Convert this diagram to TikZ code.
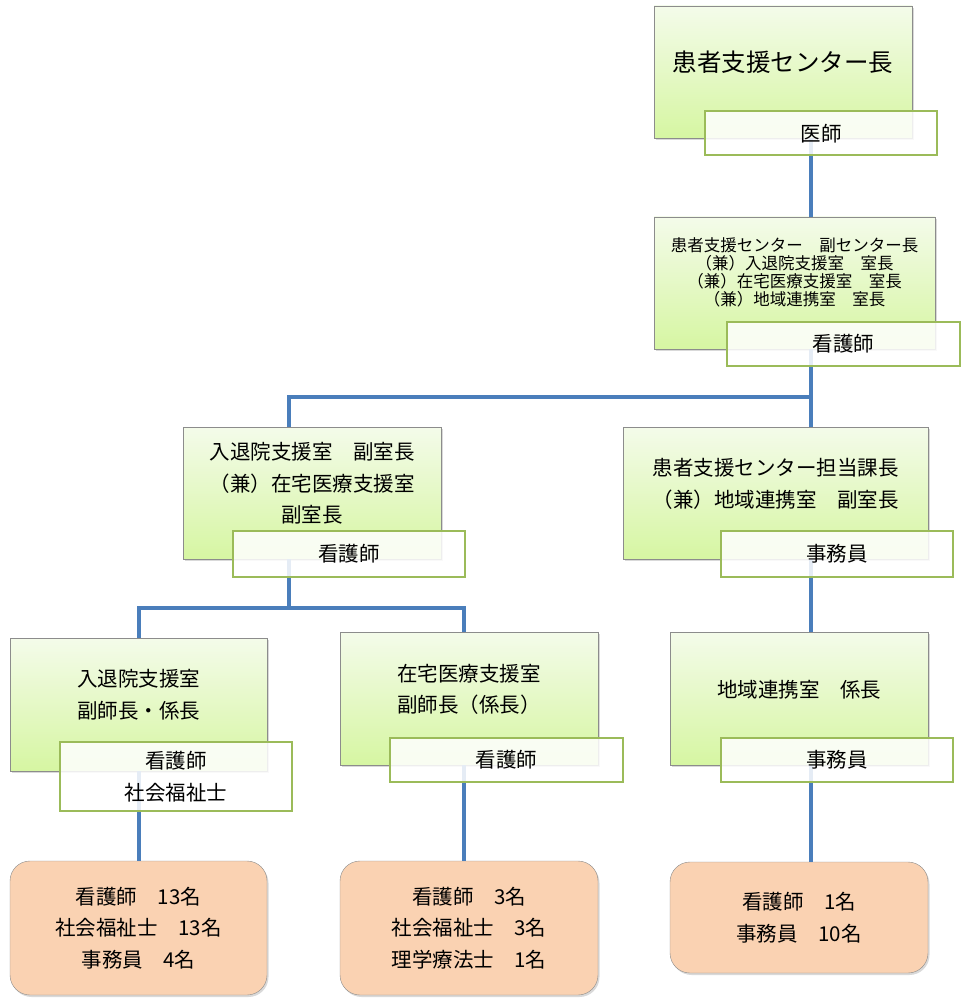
\documentclass[tikz,border=0pt]{standalone}
\usepackage{fontspec}
\setmainfont{Noto Sans CJK JP}
\usetikzlibrary{positioning, shadows, calc}

\definecolor{linkblue}{RGB}{74,126,187}
\definecolor{rolegreen}{RGB}{155,187,89}
\definecolor{boxtop}{RGB}{244,251,234}
\definecolor{boxbot}{RGB}{214,246,162}
\definecolor{staffbg}{RGB}{250,210,178}
\definecolor{edgegray}{RGB}{140,140,140}

\newcommand{\bodyfont}{\fontsize{20.5}{31.5}\selectfont}

\tikzset{
	post/.style={rectangle, draw=edgegray, top color=boxtop, bottom color=boxbot, minimum width=258pt, minimum height=132pt, drop shadow={shadow xshift=1.5pt, shadow yshift=-2pt, opacity=0.3}},
	role/.style={rectangle, draw=rolegreen, line width=2pt, fill=white, fill opacity=0.86, text opacity=1, minimum width=232pt, minimum height=44pt, anchor=north east, align=center, font=\bodyfont},
	staff/.style={rectangle, rounded corners=20pt, draw=edgegray, fill=staffbg, minimum width=257pt, minimum height=134pt, align=center, font=\bodyfont, drop shadow={shadow xshift=1.5pt, shadow yshift=-2pt, opacity=0.3}},
	title/.style={align=center, font=\bodyfont},
	link/.style={linkblue, line width=3.5pt},
}

\begin{document}
\begin{tikzpicture}[x=1pt, y=-1pt]
	\useasboundingbox (0,0) rectangle (962,1008);
	% posts
	\node[post] (chief) at (783,72) {};
	\node[post, minimum width=281pt] (vice) at (794.5,283) {};
	\node[post] (admitdep) at (312,493) {};
	\node[post, minimum width=305pt] (liaisonmgr) at (775.5,493) {};
	\node[post, minimum width=257pt, minimum height=133pt] (admitlead) at (138.5,704.5) {};
	\node[post, minimum height=133pt] (homelead) at (469,698.5) {};
	\node[post, minimum height=133pt] (liaisonlead) at (799,698.5) {};
	% staff
	\node[staff] (admitstaff) at (138.5,928) {看護師　13名\\社会福祉士　13名\\事務員　4名};
	\node[staff, minimum width=258pt] (homestaff) at (469,928) {看護師　3名\\社会福祉士　3名\\理学療法士　1名};
	\node[staff, minimum width=258pt, minimum height=111pt] (liaisonstaff) at (799,917.5) {看護師　1名\\事務員　10名};
	% connectors
	\coordinate (spine) at (811,0);
	\coordinate (leftdrop) at (289,0);
	\coordinate (wardx) at (139,0);
	\coordinate (homex) at (464,0);
	\coordinate (split) at (0,397);
	\coordinate (subsplit) at (0,608);
	\draw[link] (chief.south -| spine) -- (vice.north -| spine);
	\draw[link] (vice.south -| spine) -- (spine |- split) -- (leftdrop |- split) -- (leftdrop |- admitdep.north);
	\draw[link] (spine |- split) -- (spine |- liaisonmgr.north);
	\draw[link] (admitdep.south -| leftdrop) -- (leftdrop |- subsplit);
	\draw[link] (wardx |- admitlead.north) -- (wardx |- subsplit) -- (homex |- subsplit) -- (homex |- homelead.north);
	\draw[link] (liaisonmgr.south -| spine) -- (spine |- liaisonlead.north);
	\draw[link] (wardx |- admitlead.south) -- (wardx |- admitstaff.north);
	\draw[link] (homex |- homelead.south) -- (homex |- homestaff.north);
	\draw[link] (liaisonlead.south -| spine) -- (spine |- liaisonstaff.north);
	% roles
	\node[role] (chiefrole) at ([xshift=26pt, yshift=28pt]chief.south east) {医師};
	\node[role, minimum width=233pt] (vicerole) at ([xshift=26pt, yshift=28pt]vice.south east) {看護師};
	\node[role, minimum height=46pt] (admitdeprole) at ([xshift=25pt, yshift=29pt]admitdep.south east) {看護師};
	\node[role, minimum height=46pt] (liaisonmgrrole) at ([xshift=26pt, yshift=29pt]liaisonmgr.south east) {事務員};
	\node[role, minimum height=69pt] (admitleadrole) at ([xshift=26pt, yshift=30pt]admitlead.south east) {看護師\\社会福祉士};
	\node[role, minimum width=233pt] (homeleadrole) at ([xshift=26pt, yshift=28pt]homelead.south east) {看護師};
	\node[role] (liaisonleadrole) at ([xshift=26pt, yshift=28pt]liaisonlead.south east) {事務員};
	% titles
	\node[title, font=\fontsize{24.5}{30}\selectfont] (chieftext) at ([yshift=10pt]chief.center) {患者支援センター長};
	\node[title, font=\fontsize{16.5}{18}\selectfont] (vicetext) at ([yshift=11pt]vice.center) {患者支援センター　副センター長\\（兼）入退院支援室　室長\\（兼）在宅医療支援室　室長\\（兼）地域連携室　室長};
	\node[title] (admitdeptext) at ([yshift=9.5pt]admitdep.center) {入退院支援室　副室長\\（兼）在宅医療支援室\\副室長};
	\node[title] (liaisonmgrtext) at ([yshift=9pt]liaisonmgr.center) {患者支援センター担当課長\\（兼）地域連携室　副室長};
	\node[title] (admitleadtext) at ([yshift=10pt]admitlead.center) {入退院支援室\\副師長・係長};
	\node[title] (homeleadtext) at ([yshift=9pt]homelead.center) {在宅医療支援室\\副師長（係長）};
	\node[title] (liaisonleadtext) at ([yshift=8.5pt]liaisonlead.center) {地域連携室　係長};
\end{tikzpicture}
\end{document}
